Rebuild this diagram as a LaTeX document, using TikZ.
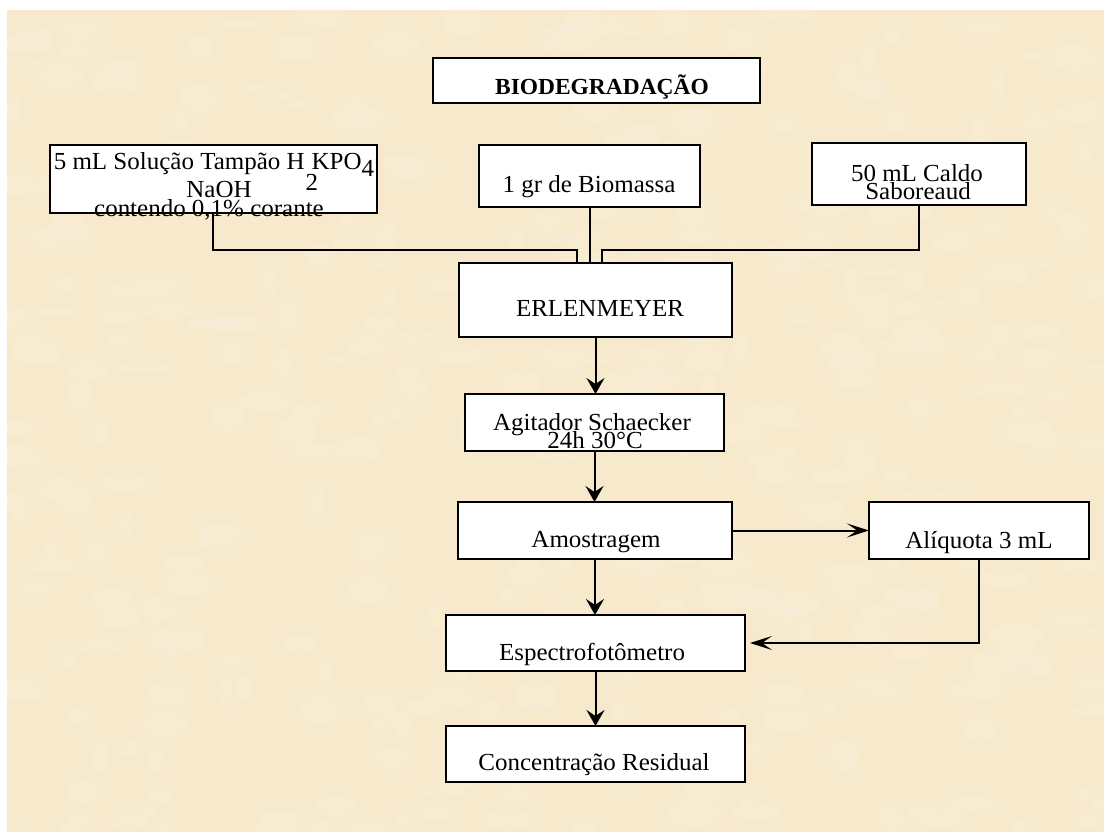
\documentclass[tikz,border=0pt]{standalone}
\usepackage{fontspec}
\setmainfont{Liberation Serif}[FakeStretch=1.02]
\usetikzlibrary{arrows.meta}
\definecolor{paper}{RGB}{247,233,204}
\definecolor{paperlight}{RGB}{252,245,228}
\begin{document}
\begin{tikzpicture}[x=1pt,y=-1pt,
  box/.style={rectangle,draw=black,fill=white,line width=2.4pt,inner sep=0pt,outer sep=0pt},
  txt/.style={anchor=base,inner sep=0pt,font=\fontsize{24.5}{24}\selectfont},
  link/.style={line width=2pt},
  vhead/.style={-{Stealth[length=16pt,width=18pt,inset=6pt]}},
  hhead/.style={-{Stealth[length=22pt,width=14pt,inset=10pt]}},
]
\useasboundingbox (0,0) rectangle (1104,832);
% parchment background
\fill[white] (0,0) rectangle (1104,832);
\fill[paper] (7,10) rectangle (1104,832);
\pgfmathsetseed{42}
\begin{scope}
  \clip (7,10) rectangle (1104,832);
  \foreach \i in {1,...,400}{
    \pgfmathsetmacro\px{7+1097*rnd}
    \pgfmathsetmacro\py{10+822*rnd}
    \pgfmathsetmacro\rx{6+22*rnd}
    \pgfmathsetmacro\ry{4+12*rnd}
    \fill[paperlight,opacity=0.18] (\px,\py) ellipse [x radius=\rx pt, y radius=\ry pt];
  }
\end{scope}

% boxes
\node[box,minimum width=327pt,minimum height=45pt] (bio)  at (596.5,80.5) {};
\node[box,minimum width=327pt,minimum height=68pt] (src1) at (213.5,179)  {};
\node[box,minimum width=221pt,minimum height=62pt] (src2) at (589.5,176)  {};
\node[box,minimum width=214pt,minimum height=62pt] (src3) at (919,174)    {};
\node[box,minimum width=273pt,minimum height=74pt] (erl)  at (595.5,300)  {};
\node[box,minimum width=259pt,minimum height=57pt] (agi)  at (594.5,422.5){};
\node[box,minimum width=274pt,minimum height=57pt] (amo)  at (595,530.5)  {};
\node[box,minimum width=220pt,minimum height=57pt] (ali)  at (979,530.5)  {};
\node[box,minimum width=299pt,minimum height=56pt] (esp)  at (595.5,643)  {};
\node[box,minimum width=299pt,minimum height=56pt] (con)  at (595.5,754)  {};

% junction points of the feed lines
\coordinate (c1) at (213,250);
\coordinate (jl) at (577,250);
\coordinate (jr) at (602,250);
\coordinate (c3) at (919,250);

% connectors
\draw[link] (c1 |- src1.south) -- (c1) -- (jl) -- (jl |- erl.north);
\draw[link] (src2.south) -- (src2.south |- erl.north);
\draw[link] (c3 |- src3.south) -- (c3) -- (jr) -- (jr |- erl.north);
\draw[link,vhead] (erl.south) -- (erl.south |- agi.north);
\draw[link,vhead] (agi.south) -- (agi.south |- amo.north);
\draw[link,hhead] (amo.east) -- (amo.east -| ali.west);
\draw[link,vhead] (amo.south) -- (amo.south |- esp.north);
\draw[link,hhead] (ali.south) |- ([xshift=5pt]esp.east);
\draw[link,vhead] (esp.south) -- (esp.south |- con.north);

% texts
\node[txt,font=\bfseries\fontsize{23}{24}\selectfont] (tbio) at (602,95) {BIODEGRADAÇÃO};
\node[txt] (ts1a) at (214,170) {5 mL Solução Tampão H\hspace{1pt}\makebox[6pt][l]{\raisebox{-21pt}{2}}KPO\raisebox{-7pt}{4}};
\node[txt] (ts1b) at (219,198) {NaOH};
\node[txt] (ts1c) at (209,216) {contendo 0,1\% corante};
\node[txt] (ts2)  at (589,193) {1 gr de Biomassa};
\node[txt] (ts3a) at (917,182) {50 mL Caldo};
\node[txt] (ts3b) at (918,200) {Saboreaud};
\node[txt] (terl) at (600,316) {ERLENMEYER};
\node[txt] (tagia) at (592,430) {Agitador Schaecker};
\node[txt] (tagib) at (595,448) {24h 30°C};
\node[txt] (tamo) at (596,547) {Amostragem};
\node[txt] (tali) at (979,548) {Alíquota 3 mL};
\node[txt] (tesp) at (592,660) {Espectrofotômetro};
\node[txt] (tcon) at (594,770) {Concentração Residual};
\end{tikzpicture}
\end{document}
